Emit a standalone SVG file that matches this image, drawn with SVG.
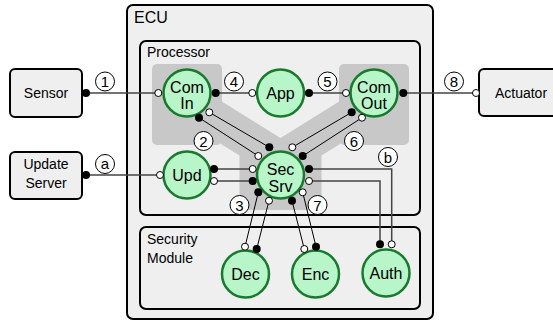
<svg xmlns="http://www.w3.org/2000/svg" width="553" height="322" viewBox="0 0 553 322">
<defs>
<style>
.box{fill:#efefef;stroke:#000;stroke-width:2}
.zone{fill:#c8c8c8;stroke:none}
.node{fill:#b8f5c8;stroke:#187a2e;stroke-width:2.5}
.nt{font-family:"Liberation Sans",Arial,sans-serif;font-size:16px;fill:#000;text-anchor:middle}
.bt{font-family:"Liberation Sans",Arial,sans-serif;font-size:14px;fill:#000;text-anchor:middle}
.lt{font-family:"Liberation Sans",Arial,sans-serif;font-size:14px;fill:#000}
.ext{fill:none;stroke:#444;stroke-width:1.5}
.int{fill:none;stroke:#000;stroke-width:1}
.pf{fill:#000;stroke:none}
.ph{fill:#fff;stroke:#000;stroke-width:1}
.lc{fill:#fff;stroke:#000;stroke-width:1}
.ln{font-family:"Liberation Sans",Arial,sans-serif;font-size:15px;fill:#000;text-anchor:middle}
</style>
</defs>
<rect width="553" height="322" fill="#fff"/>

<g id="ecu">
<rect class="box" x="127" y="5" width="306" height="314" rx="6"/>
<text class="lt" x="134" y="23" style="font-size:16px">ECU</text>
</g>
<g id="processor">
<rect class="box" x="140" y="41" width="280" height="174" rx="6"/>
<text class="lt" x="147" y="57">Processor</text>
<rect class="zone" x="152" y="64" width="70" height="81" rx="5"/>
<rect class="zone" x="339" y="64" width="70" height="81" rx="5"/>
<polygon class="zone" points="221,101 280.5,138 340,101 340,144 321.5,155.5 321.5,210 239.5,210 239.5,155.5 221,144"/>
</g>
<g id="security-module">
<rect class="box" x="140" y="227" width="280" height="82" rx="6"/>
<text class="lt" x="147" y="244">Security</text>
<text class="lt" x="147" y="263">Module</text>
</g>
<g id="sensor">
<rect class="box" x="10" y="69" width="72" height="48" rx="5"/>
<text class="bt" x="46" y="98">Sensor</text>
</g>
<g id="update-server">
<rect class="box" x="10" y="152" width="72" height="47" rx="5"/>
<text class="bt" x="46" y="169">Update</text>
<text class="bt" x="46" y="188">Server</text>
</g>
<g id="actuator">
<rect class="box" x="479" y="69" width="86" height="47" rx="5"/>
<text class="bt" x="521" y="98">Actuator</text>
</g>

<g id="connectors">
<path class="ext" d="M86,93 H158.3"/>
<path class="ext" d="M86,175 H160"/>
<path class="ext" d="M215.7,93 H252.3"/>
<path class="ext" d="M309,93 H346"/>
<path class="ext" d="M403.3,93 H476"/>
<path class="ext" d="M214,169 H252.7"/>
<path class="ext" d="M214,181 H252.7"/>
<path class="ext" d="M309,169 H391.7 V244.3"/>
<path class="ext" d="M309,181 H380 V244.3"/>
<path class="int" d="M199,117.7 L258.3,156"/>
<path class="int" d="M209.3,112.3 L269.3,147.3"/>
<path class="int" d="M351.7,112.3 L292.3,147.3"/>
<path class="int" d="M362,117.7 L302.7,156"/>
<path class="int" d="M258.3,192.3 L245,246.7"/>
<path class="int" d="M269,200.7 L256.7,249"/>
<path class="int" d="M292,200.7 L304.3,249"/>
<path class="int" d="M302.7,192.3 L316,246.7"/>
</g>

<g id="com-in"><circle class="node" cx="187" cy="93" r="23.5"/><text class="nt" x="187" y="93">Com</text><text class="nt" x="187" y="109">In</text></g>
<g id="app"><circle class="node" cx="280.5" cy="93" r="23.5"/><text class="nt" x="280.5" y="99">App</text></g>
<g id="com-out"><circle class="node" cx="374" cy="93" r="23.5"/><text class="nt" x="374" y="93">Com</text><text class="nt" x="374" y="109">Out</text></g>
<g id="upd"><circle class="node" cx="187" cy="175" r="23.5"/><text class="nt" x="187" y="181">Upd</text></g>
<g id="sec-srv"><circle class="node" cx="280.5" cy="175" r="23.5"/><text class="nt" x="280.5" y="175">Sec</text><text class="nt" x="280.5" y="192">Srv</text></g>
<g id="dec"><circle class="node" cx="245.5" cy="274" r="23.5"/><text class="nt" x="245.5" y="280">Dec</text></g>
<g id="enc"><circle class="node" cx="315.5" cy="274" r="23.5"/><text class="nt" x="315.5" y="280">Enc</text></g>
<g id="auth"><circle class="node" cx="386" cy="273" r="23.5"/><text class="nt" x="386" y="279">Auth</text></g>

<g id="ports">
<circle class="pf" cx="86" cy="93" r="4"/>
<circle class="pf" cx="86" cy="175" r="4"/>
<circle class="ph" cx="158.3" cy="93" r="3.5"/>
<circle class="pf" cx="215.7" cy="93" r="4"/>
<circle class="ph" cx="252.3" cy="93" r="3.5"/>
<circle class="pf" cx="309" cy="93" r="4"/>
<circle class="ph" cx="346" cy="93" r="3.5"/>
<circle class="pf" cx="403.3" cy="93" r="4"/>
<circle class="ph" cx="476" cy="93" r="3.5"/>
<circle class="pf" cx="199" cy="117.7" r="4"/>
<circle class="ph" cx="209.3" cy="112.3" r="3.5"/>
<circle class="pf" cx="351.7" cy="112.3" r="4"/>
<circle class="ph" cx="362" cy="117.7" r="3.5"/>
<circle class="ph" cx="160" cy="175" r="3.5"/>
<circle class="pf" cx="214" cy="169" r="4"/>
<circle class="ph" cx="214" cy="181" r="3.5"/>
<circle class="pf" cx="269.3" cy="147.3" r="4"/>
<circle class="ph" cx="258.3" cy="156" r="3.5"/>
<circle class="ph" cx="292.3" cy="147.3" r="3.5"/>
<circle class="pf" cx="302.7" cy="156" r="4"/>
<circle class="ph" cx="252.7" cy="169" r="3.5"/>
<circle class="pf" cx="252.7" cy="181" r="4"/>
<circle class="pf" cx="309" cy="169" r="4"/>
<circle class="ph" cx="309" cy="181" r="3.5"/>
<circle class="pf" cx="258.3" cy="192.3" r="4"/>
<circle class="ph" cx="269" cy="200.7" r="3.5"/>
<circle class="pf" cx="292" cy="200.7" r="4"/>
<circle class="ph" cx="302.7" cy="192.3" r="3.5"/>
<circle class="ph" cx="245" cy="246.7" r="3.5"/>
<circle class="pf" cx="256.7" cy="249" r="4"/>
<circle class="ph" cx="304.3" cy="249" r="3.5"/>
<circle class="pf" cx="316" cy="246.7" r="4"/>
<circle class="pf" cx="380" cy="244.3" r="4"/>
<circle class="ph" cx="391.7" cy="244.3" r="3.5"/>
</g>

<g id="labels">
<circle class="lc" cx="105" cy="81.5" r="9.5"/><text class="ln" x="105" y="87">1</text>
<circle class="lc" cx="105" cy="164" r="9.5"/><text class="ln" x="105" y="168.5">a</text>
<circle class="lc" cx="234" cy="81.5" r="9.5"/><text class="ln" x="234" y="87">4</text>
<circle class="lc" cx="327.5" cy="81.5" r="9.5"/><text class="ln" x="327.5" y="87">5</text>
<circle class="lc" cx="454" cy="81.5" r="9.5"/><text class="ln" x="454" y="87">8</text>
<circle class="lc" cx="203.5" cy="141" r="9.5"/><text class="ln" x="203.5" y="146.5">2</text>
<circle class="lc" cx="354" cy="141" r="9.5"/><text class="ln" x="354" y="146.5">6</text>
<circle class="lc" cx="388" cy="157" r="9.5"/><text class="ln" x="388" y="162.5">b</text>
<circle class="lc" cx="239.5" cy="205" r="9.5"/><text class="ln" x="239.5" y="210.5">3</text>
<circle class="lc" cx="317.5" cy="205" r="9.5"/><text class="ln" x="317.5" y="210.5">7</text>
</g>
</svg>
